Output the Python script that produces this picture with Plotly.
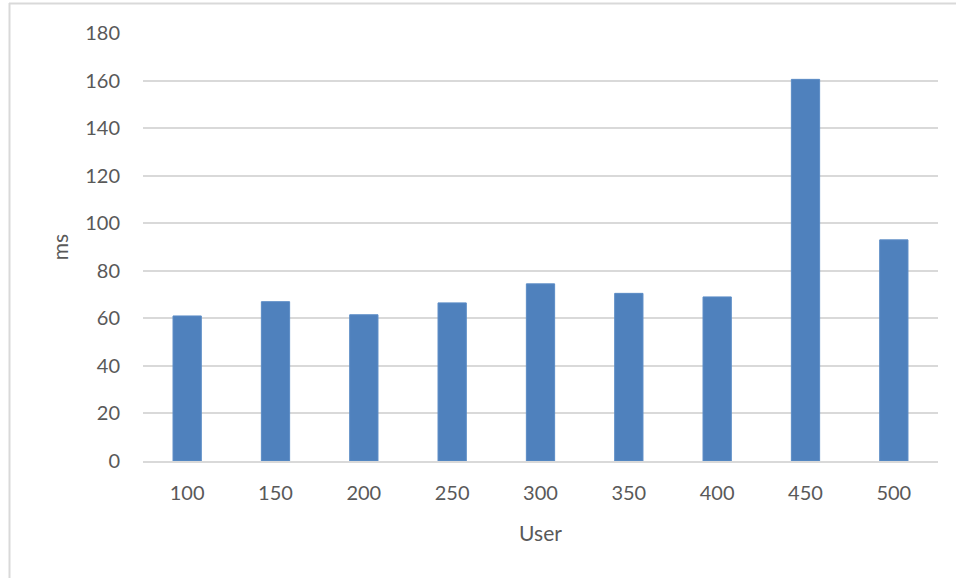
import plotly.graph_objects as go

users = ["100", "150", "200", "250", "300", "350", "400", "450", "500"]
ms_values = [61, 67, 61.5, 66.5, 74.5, 70.5, 69, 160.5, 93]
y_ticks = [0, 20, 40, 60, 80, 100, 120, 140, 160, 180]

W, H = 956, 578
L, R, T, B = 143, 18, 33, 117
pw, ph = W - L - R, H - T - B

def px(x):
    return (x - L) / pw

def py(y):
    return (H - B - y) / ph

fig = go.Figure(go.Bar(x=users, y=ms_values, marker=dict(color="#4f81bd", line=dict(color="#5b8cc6", width=1))))

font = dict(family="Lato, 'Open Sans', sans-serif", size=20, color="#595959")
fig.update_layout(
    width=W, height=H, margin=dict(l=L, r=R, t=T, b=B),
    paper_bgcolor="white", plot_bgcolor="white",
    bargap=0.68, showlegend=False, font=font,
    xaxis=dict(type="category", title=dict(text="User", font=dict(size=21, color="#595959"), standoff=24),
               showgrid=False, showline=True, linecolor="#d9d9d9", linewidth=1.5,
               ticks="", ticklabelstandoff=13, tickfont=font),
    yaxis=dict(range=[0, 180], tickvals=y_ticks, title=dict(text="ms", font=dict(size=21, color="#595959"), standoff=10),
               showgrid=True, gridcolor="#d9d9d9", gridwidth=1.5, zeroline=False,
               showline=False, ticks="", ticklabelstandoff=22, tickfont=font),
    shapes=[
        dict(type="line", xref="paper", yref="paper", x0=px(9), x1=px(956), y0=py(3.5), y1=py(3.5),
             line=dict(color="#d9d9d9", width=2)),
        dict(type="line", xref="paper", yref="paper", x0=px(9.5), x1=px(9.5), y0=py(3), y1=py(578),
             line=dict(color="#d9d9d9", width=2)),
    ],
)
fig.write_html("out.html")
